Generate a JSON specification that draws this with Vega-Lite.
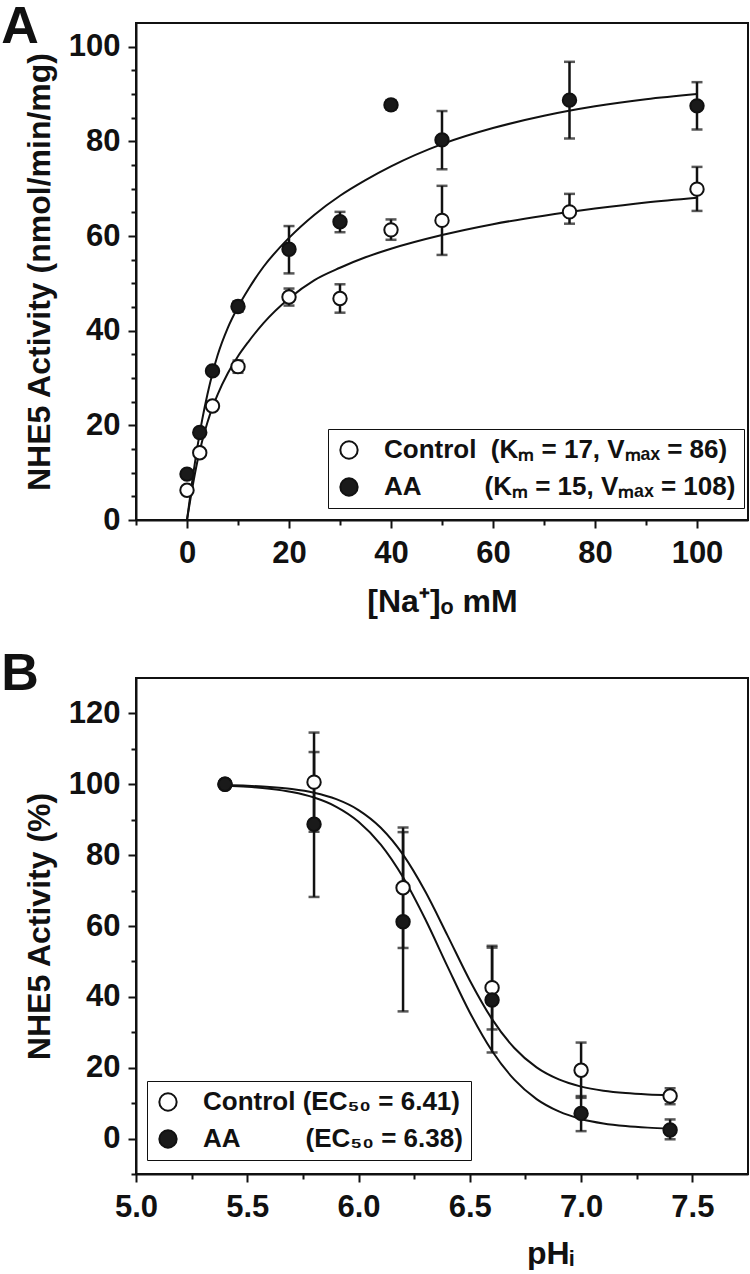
{
  "$schema": "https://vega.github.io/schema/vega-lite/v6.json",
  "padding": {"left": 0, "top": 0, "right": 0, "bottom": 0},
  "background": "white",
  "spacing": 29,
  "config": {
    "font": "Liberation Sans",
    "view": {"stroke": "#111", "strokeWidth": 2},
    "axis": {
      "grid": false, "domainColor": "#111", "domainWidth": 2, "tickColor": "#111", "tickWidth": 2,
      "labelFont": "Liberation Sans", "labelFontWeight": "bold", "labelFontSize": 31, "labelColor": "#111",
      "titleFont": "Liberation Sans", "titleFontWeight": "bold", "titleFontSize": 32, "titleColor": "#111",
      "labelFlush": false, "labelOverlap": false
    },
    "title": {"font": "Liberation Sans", "fontSize": 52, "fontWeight": "bold", "color": "#111", "anchor": "start", "frame": "bounds"},
    "legend": {
      "strokeColor": "#111", "fillColor": "white", "padding": 8,
      "symbolType": "circle", "symbolSize": 300, "symbolStrokeColor": "#111", "symbolStrokeWidth": 2,
      "labelFont": "Liberation Sans", "labelFontWeight": "bold", "labelFontSize": 26, "labelColor": "#111",
      "labelLimit": 700, "labelOffset": 22, "rowPadding": 11
    }
  },
  "resolve": {"scale": {"fill": "independent"}, "legend": {"fill": "independent"}},
  "datasets": {
    "ptsA": [
      {"group": "Control", "x": 0, "y": 6.3, "lo": 6.3, "hi": 6.3},
      {"group": "Control", "x": 2.5, "y": 14.2, "lo": 14.2, "hi": 14.2},
      {"group": "Control", "x": 5, "y": 24.1, "lo": 24.1, "hi": 24.1},
      {"group": "Control", "x": 10, "y": 32.4, "lo": 31.1, "hi": 33.7},
      {"group": "Control", "x": 20, "y": 47.1, "lo": 45.3, "hi": 48.9},
      {"group": "Control", "x": 30, "y": 46.8, "lo": 43.8, "hi": 49.8},
      {"group": "Control", "x": 40, "y": 61.3, "lo": 59.2, "hi": 63.5},
      {"group": "Control", "x": 50, "y": 63.3, "lo": 56.0, "hi": 70.6},
      {"group": "Control", "x": 75, "y": 65.1, "lo": 62.6, "hi": 68.9},
      {"group": "Control", "x": 100, "y": 69.9, "lo": 65.3, "hi": 74.6},
      {"group": "AA", "x": 0, "y": 9.7, "lo": 9.7, "hi": 9.7},
      {"group": "AA", "x": 2.5, "y": 18.5, "lo": 18.5, "hi": 18.5},
      {"group": "AA", "x": 5, "y": 31.5, "lo": 31.5, "hi": 31.5},
      {"group": "AA", "x": 10, "y": 45.1, "lo": 44.0, "hi": 46.2},
      {"group": "AA", "x": 20, "y": 57.2, "lo": 52.1, "hi": 62.1},
      {"group": "AA", "x": 30, "y": 63.0, "lo": 60.8, "hi": 65.1},
      {"group": "AA", "x": 40, "y": 87.7, "lo": 86.7, "hi": 88.7},
      {"group": "AA", "x": 50, "y": 80.3, "lo": 74.1, "hi": 86.4},
      {"group": "AA", "x": 75, "y": 88.7, "lo": 80.6, "hi": 96.8},
      {"group": "AA", "x": 100, "y": 87.5, "lo": 82.5, "hi": 92.5}
    ],
    "curvesA": [
      {"group": "Control", "x": 0, "y": 0}, {"group": "Control", "x": 1, "y": 6.5}, {"group": "Control", "x": 2, "y": 12.2},
      {"group": "Control", "x": 3, "y": 16.8}, {"group": "Control", "x": 4, "y": 20.6}, {"group": "Control", "x": 5, "y": 23.8},
      {"group": "Control", "x": 6, "y": 26.5}, {"group": "Control", "x": 8, "y": 31.0}, {"group": "Control", "x": 10, "y": 34.6},
      {"group": "Control", "x": 12, "y": 37.6}, {"group": "Control", "x": 15, "y": 41.6}, {"group": "Control", "x": 20, "y": 46.8},
      {"group": "Control", "x": 25, "y": 50.7}, {"group": "Control", "x": 30, "y": 53.3}, {"group": "Control", "x": 35, "y": 55.5},
      {"group": "Control", "x": 40, "y": 57.3}, {"group": "Control", "x": 50, "y": 60.2}, {"group": "Control", "x": 60, "y": 62.5},
      {"group": "Control", "x": 70, "y": 64.3}, {"group": "Control", "x": 80, "y": 65.8}, {"group": "Control", "x": 90, "y": 67.1},
      {"group": "Control", "x": 100, "y": 68.1},
      {"group": "AA", "x": 0, "y": 0}, {"group": "AA", "x": 1, "y": 8.0}, {"group": "AA", "x": 2, "y": 15.2},
      {"group": "AA", "x": 3, "y": 21.3}, {"group": "AA", "x": 4, "y": 26.5}, {"group": "AA", "x": 5, "y": 31.0},
      {"group": "AA", "x": 6, "y": 34.8}, {"group": "AA", "x": 8, "y": 40.6}, {"group": "AA", "x": 10, "y": 45.0},
      {"group": "AA", "x": 12, "y": 48.7}, {"group": "AA", "x": 15, "y": 53.5}, {"group": "AA", "x": 20, "y": 59.6},
      {"group": "AA", "x": 25, "y": 64.5}, {"group": "AA", "x": 30, "y": 68.5}, {"group": "AA", "x": 35, "y": 71.8},
      {"group": "AA", "x": 40, "y": 74.7}, {"group": "AA", "x": 50, "y": 79.4}, {"group": "AA", "x": 60, "y": 82.8},
      {"group": "AA", "x": 70, "y": 85.4}, {"group": "AA", "x": 80, "y": 87.4}, {"group": "AA", "x": 90, "y": 88.9},
      {"group": "AA", "x": 100, "y": 90.0}
    ],
    "ptsB": [
      {"group": "Control", "x": 5.4, "y": 100, "lo": 100, "hi": 100},
      {"group": "Control", "x": 5.8, "y": 100.6, "lo": 86.6, "hi": 114.6},
      {"group": "Control", "x": 6.2, "y": 70.8, "lo": 53.8, "hi": 87.8},
      {"group": "Control", "x": 6.6, "y": 42.6, "lo": 30.8, "hi": 54.4},
      {"group": "Control", "x": 7.0, "y": 19.3, "lo": 11.5, "hi": 27.1},
      {"group": "Control", "x": 7.4, "y": 12.0, "lo": 9.7, "hi": 14.2},
      {"group": "AA", "x": 5.4, "y": 100, "lo": 100, "hi": 100},
      {"group": "AA", "x": 5.8, "y": 88.7, "lo": 68.2, "hi": 109.1},
      {"group": "AA", "x": 6.2, "y": 61.2, "lo": 35.9, "hi": 86.5},
      {"group": "AA", "x": 6.6, "y": 39.1, "lo": 24.3, "hi": 53.9},
      {"group": "AA", "x": 7.0, "y": 7.1, "lo": 2.1, "hi": 12.0},
      {"group": "AA", "x": 7.4, "y": 2.4, "lo": -0.2, "hi": 5.4}
    ],
    "curvesB": [
      {"group": "Control", "x": 5.4, "y": 99.77}, {"group": "Control", "x": 5.5, "y": 99.58}, {"group": "Control", "x": 5.6, "y": 99.25},
      {"group": "Control", "x": 5.7, "y": 98.66}, {"group": "Control", "x": 5.8, "y": 97.62}, {"group": "Control", "x": 5.9, "y": 95.80},
      {"group": "Control", "x": 6.0, "y": 92.73}, {"group": "Control", "x": 6.1, "y": 87.73}, {"group": "Control", "x": 6.2, "y": 80.14},
      {"group": "Control", "x": 6.3, "y": 69.74}, {"group": "Control", "x": 6.4, "y": 57.29}, {"group": "Control", "x": 6.5, "y": 44.64},
      {"group": "Control", "x": 6.6, "y": 33.72}, {"group": "Control", "x": 6.7, "y": 25.56}, {"group": "Control", "x": 6.8, "y": 20.09},
      {"group": "Control", "x": 6.9, "y": 16.69}, {"group": "Control", "x": 7.0, "y": 14.67}, {"group": "Control", "x": 7.1, "y": 13.51},
      {"group": "Control", "x": 7.2, "y": 12.84}, {"group": "Control", "x": 7.3, "y": 12.47}, {"group": "Control", "x": 7.4, "y": 12.26},
      {"group": "AA", "x": 5.4, "y": 99.58}, {"group": "AA", "x": 5.5, "y": 99.27}, {"group": "AA", "x": 5.6, "y": 98.73},
      {"group": "AA", "x": 5.7, "y": 97.81}, {"group": "AA", "x": 5.8, "y": 96.25}, {"group": "AA", "x": 5.9, "y": 93.65},
      {"group": "AA", "x": 6.0, "y": 89.44}, {"group": "AA", "x": 6.1, "y": 82.99}, {"group": "AA", "x": 6.2, "y": 73.76},
      {"group": "AA", "x": 6.3, "y": 61.90}, {"group": "AA", "x": 6.4, "y": 48.55}, {"group": "AA", "x": 6.5, "y": 35.60},
      {"group": "AA", "x": 6.6, "y": 24.71}, {"group": "AA", "x": 6.7, "y": 16.62}, {"group": "AA", "x": 6.8, "y": 11.14},
      {"group": "AA", "x": 6.9, "y": 7.66}, {"group": "AA", "x": 7.0, "y": 5.53}, {"group": "AA", "x": 7.1, "y": 4.26},
      {"group": "AA", "x": 7.2, "y": 3.52}, {"group": "AA", "x": 7.3, "y": 3.09}, {"group": "AA", "x": 7.4, "y": 2.84}
    ]
  },
  "vconcat": [
    {
      "width": 612, "height": 497,
      "title": {"text": "A", "offset": -31, "dx": -22},
      "resolve": {"axis": {"x": "independent", "y": "independent"}},
      "layer": [
        {
          "data": {"name": "curvesA"},
          "mark": {"type": "line", "color": "#111", "strokeWidth": 2, "interpolate": "monotone"},
          "encoding": {
            "x": {"field": "x", "type": "quantitative", "scale": {"domain": [-10, 110], "nice": false, "zero": false},
                  "axis": {"orient": "bottom", "values": [0, 20, 40, 60, 80, 100], "tickSize": 8, "labelPadding": 10, "title": "[Na\u207a]\u2092 mM", "titlePadding": 18}},
            "y": {"field": "y", "type": "quantitative", "scale": {"domain": [0, 105], "nice": false, "zero": false},
                  "axis": {"orient": "left", "values": [0, 20, 40, 60, 80, 100], "tickSize": 8, "labelPadding": 8, "title": "NHE5 Activity (nmol/min/mg)", "titlePadding": 12}},
            "detail": {"field": "group", "type": "nominal"}
          }
        },
        {
          "data": {"name": "ptsA"},
          "mark": {"type": "rule", "color": "#111", "strokeWidth": 2.5},
          "encoding": {
            "x": {"field": "x", "type": "quantitative", "scale": {"domain": [-10, 110], "nice": false, "zero": false},
                  "axis": {"orient": "bottom", "values": [-10, 10, 30, 50, 70, 90], "tickSize": 5, "labels": false, "domain": false, "title": null}},
            "y": {"field": "lo", "type": "quantitative", "scale": {"domain": [0, 105], "nice": false, "zero": false},
                  "axis": {"orient": "left", "values": [5, 10, 15, 25, 30, 35, 45, 50, 55, 65, 70, 75, 85, 90, 95], "tickSize": 5, "labels": false, "domain": false, "title": null}},
            "y2": {"field": "hi"}
          }
        },
        {
          "data": {"name": "ptsA"},
          "mark": {"type": "tick", "orient": "horizontal", "color": "#111", "size": 11, "thickness": 2.5},
          "encoding": {
            "x": {"field": "x", "type": "quantitative", "scale": {"domain": [-10, 110], "nice": false, "zero": false}, "axis": null},
            "y": {"field": "hi", "type": "quantitative", "scale": {"domain": [0, 105], "nice": false, "zero": false}, "axis": null}
          }
        },
        {
          "data": {"name": "ptsA"},
          "mark": {"type": "tick", "orient": "horizontal", "color": "#111", "size": 11, "thickness": 2.5},
          "encoding": {
            "x": {"field": "x", "type": "quantitative", "scale": {"domain": [-10, 110], "nice": false, "zero": false}, "axis": null},
            "y": {"field": "lo", "type": "quantitative", "scale": {"domain": [0, 105], "nice": false, "zero": false}, "axis": null}
          }
        },
        {
          "data": {"name": "ptsA"},
          "mark": {"type": "point", "shape": "circle", "filled": true, "size": 180, "stroke": "#111", "strokeWidth": 2, "opacity": 1},
          "encoding": {
            "x": {"field": "x", "type": "quantitative", "scale": {"domain": [-10, 110], "nice": false, "zero": false}, "axis": null},
            "y": {"field": "y", "type": "quantitative", "scale": {"domain": [0, 105], "nice": false, "zero": false}, "axis": null},
            "fill": {"field": "group", "type": "nominal", "scale": {"domain": ["Control", "AA"], "range": ["#ffffff", "#1a1a1a"]},
                     "legend": {"orient": "none", "legendX": 192, "legendY": 406, "title": null,
                                "encode": {"legend": {"update": {"strokeWidth": {"value": 2}}}},
                                "labelExpr": "datum.label == 'Control' ? 'Control\u00a0\u00a0(K\u2098 = 17, V\u2098\u2090\u2093 = 86)' : 'AA\u00a0\u00a0\u00a0\u00a0\u00a0\u00a0\u00a0\u00a0\u2009(K\u2098 = 15, V\u2098\u2090\u2093 = 108)'"}}
          }
        }
      ]
    },
    {
      "width": 612, "height": 496,
      "title": {"text": "B", "offset": -23, "dx": -22},
      "resolve": {"axis": {"x": "independent", "y": "independent"}},
      "layer": [
        {
          "data": {"name": "curvesB"},
          "mark": {"type": "line", "color": "#111", "strokeWidth": 2, "interpolate": "monotone"},
          "encoding": {
            "x": {"field": "x", "type": "quantitative", "scale": {"domain": [5.0, 7.75], "nice": false, "zero": false},
                  "axis": {"orient": "bottom", "values": [5.0, 5.5, 6.0, 6.5, 7.0, 7.5], "format": ".1f", "tickSize": 8, "labelPadding": 10, "title": "pH\u1d62", "titlePadding": 16, "titleX": 414, "titleAlign": "center"}},
            "y": {"field": "y", "type": "quantitative", "scale": {"domain": [-10, 130], "nice": false, "zero": false},
                  "axis": {"orient": "left", "values": [0, 20, 40, 60, 80, 100, 120], "tickSize": 8, "labelPadding": 8, "title": "NHE5 Activity (%)", "titlePadding": 12}},
            "detail": {"field": "group", "type": "nominal"}
          }
        },
        {
          "data": {"name": "ptsB"},
          "mark": {"type": "rule", "color": "#111", "strokeWidth": 2.5},
          "encoding": {
            "x": {"field": "x", "type": "quantitative", "scale": {"domain": [5.0, 7.75], "nice": false, "zero": false},
                  "axis": {"orient": "bottom", "values": [5.25, 5.75, 6.25, 6.75, 7.25], "tickSize": 5, "labels": false, "domain": false, "title": null}},
            "y": {"field": "lo", "type": "quantitative", "scale": {"domain": [-10, 130], "nice": false, "zero": false},
                  "axis": {"orient": "left", "values": [-10, 10, 30, 50, 70, 90, 110], "tickSize": 5, "labels": false, "domain": false, "title": null}},
            "y2": {"field": "hi"}
          }
        },
        {
          "data": {"name": "ptsB"},
          "mark": {"type": "tick", "orient": "horizontal", "color": "#111", "size": 11, "thickness": 2.5},
          "encoding": {
            "x": {"field": "x", "type": "quantitative", "scale": {"domain": [5.0, 7.75], "nice": false, "zero": false}, "axis": null},
            "y": {"field": "hi", "type": "quantitative", "scale": {"domain": [-10, 130], "nice": false, "zero": false}, "axis": null}
          }
        },
        {
          "data": {"name": "ptsB"},
          "mark": {"type": "tick", "orient": "horizontal", "color": "#111", "size": 11, "thickness": 2.5},
          "encoding": {
            "x": {"field": "x", "type": "quantitative", "scale": {"domain": [5.0, 7.75], "nice": false, "zero": false}, "axis": null},
            "y": {"field": "lo", "type": "quantitative", "scale": {"domain": [-10, 130], "nice": false, "zero": false}, "axis": null}
          }
        },
        {
          "data": {"name": "ptsB"},
          "mark": {"type": "point", "shape": "circle", "filled": true, "size": 180, "stroke": "#111", "strokeWidth": 2, "opacity": 1},
          "encoding": {
            "x": {"field": "x", "type": "quantitative", "scale": {"domain": [5.0, 7.75], "nice": false, "zero": false}, "axis": null},
            "y": {"field": "y", "type": "quantitative", "scale": {"domain": [-10, 130], "nice": false, "zero": false}, "axis": null},
            "fill": {"field": "group", "type": "nominal", "scale": {"domain": ["Control", "AA"], "range": ["#ffffff", "#1a1a1a"]},
                     "legend": {"orient": "none", "legendX": 11, "legendY": 403, "title": null,
                                "encode": {"legend": {"update": {"strokeWidth": {"value": 2}}}},
                                "labelExpr": "datum.label == 'Control' ? 'Control (EC\u2085\u2080 = 6.41)' : 'AA\u00a0\u00a0\u00a0\u00a0\u00a0\u00a0\u00a0\u00a0\u00a0(EC\u2085\u2080 = 6.38)'"}}
          }
        }
      ]
    }
  ]
}
